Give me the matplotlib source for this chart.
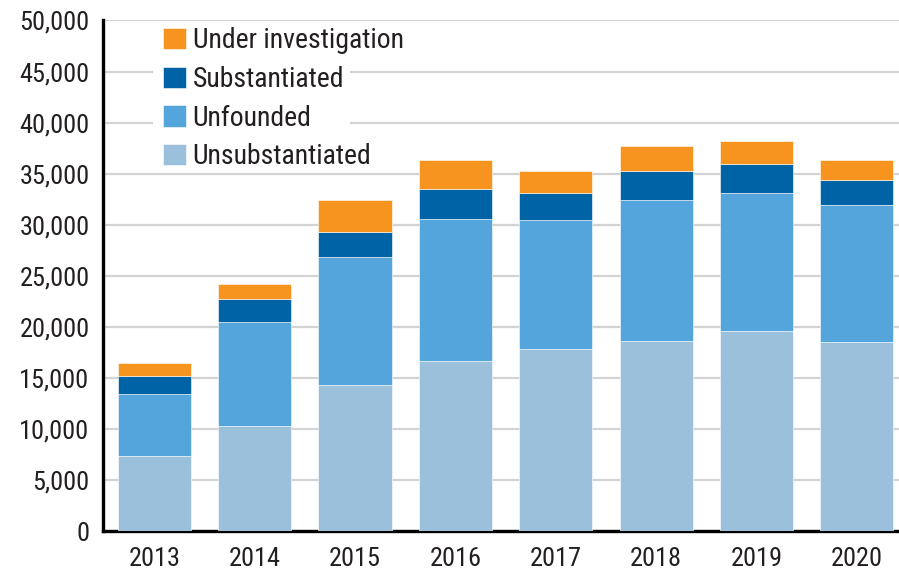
import numpy as np
import matplotlib.pyplot as plt
from matplotlib.patches import Rectangle
from matplotlib.ticker import FuncFormatter

plt.rcParams['font.family'] = ['Roboto Condensed', 'DejaVu Sans']

# données
years = ['2013', '2014', '2015', '2016', '2017', '2018', '2019', '2020']
unsubstantiated = [7390, 10350, 14370, 16680, 17890, 18610, 19650, 18570]
unfounded = [6090, 10180, 12460, 13870, 12620, 13830, 13500, 13350]
substantiated = [1770, 2250, 2450, 2960, 2640, 2800, 2810, 2440]
under_investigation = [1240, 1410, 3160, 2810, 2090, 2480, 2280, 1960]

text_color = '#231F20'
colors = {
    'Unsubstantiated': '#9AC0DB',
    'Unfounded': '#54A5DB',
    'Substantiated': '#0063A6',
    'Under investigation': '#F6941F',
}

fig = plt.figure(figsize=(8.99, 5.71), dpi=100)
ax = fig.add_axes([0.115, 0.0692, 0.885, 0.895])

x = np.arange(len(years))
bottom = np.zeros(len(years))
bars = {}
for name, vals in [('Unsubstantiated', unsubstantiated), ('Unfounded', unfounded),
                   ('Substantiated', substantiated), ('Under investigation', under_investigation)]:
    bars[name] = ax.bar(x, vals, width=0.73, bottom=bottom, color=colors[name],
                        edgecolor='white', linewidth=0.4, zorder=3, label=name)
    bottom += np.array(vals)

ax.set_ylim(0, 50000)
ax.set_xlim(-0.508, 7.42)
ax.set_yticks(np.arange(0, 50001, 5000))
ax.yaxis.set_major_formatter(FuncFormatter(lambda v, p: f'{int(v):,}'))
ax.set_xticks(x)
ax.set_xticklabels(years)

ax.grid(axis='y', color='#D3D3D3', linewidth=1.6, zorder=0)
ax.set_axisbelow(True)
for s in ['top', 'right']:
    ax.spines[s].set_visible(False)
for s in ['left', 'bottom']:
    ax.spines[s].set_linewidth(2.4)
    ax.spines[s].set_color('black')
ax.tick_params(axis='both', length=0, labelsize=19, colors=text_color)
ax.tick_params(axis='y', pad=10)
ax.tick_params(axis='x', pad=11)

# fond blanc derrière la légende (coupe les lignes 45 000 et 40 000)
ax.add_patch(Rectangle((0.0625, 0.747), 0.248, 0.195, transform=ax.transAxes,
                       facecolor='white', edgecolor='none', zorder=1))

order = ['Under investigation', 'Substantiated', 'Unfounded', 'Unsubstantiated']
leg = ax.legend([bars[n] for n in order], order, loc='upper left',
                bbox_to_anchor=(0.047, 1.03), fontsize=20, frameon=False,
                handlelength=0.82, handleheight=0.82, handletextpad=0.25,
                labelspacing=0.42, borderpad=0.3)
leg.set_zorder(2)
for t in leg.get_texts():
    t.set_color(text_color)

fig.savefig('out.png', dpi=100)
